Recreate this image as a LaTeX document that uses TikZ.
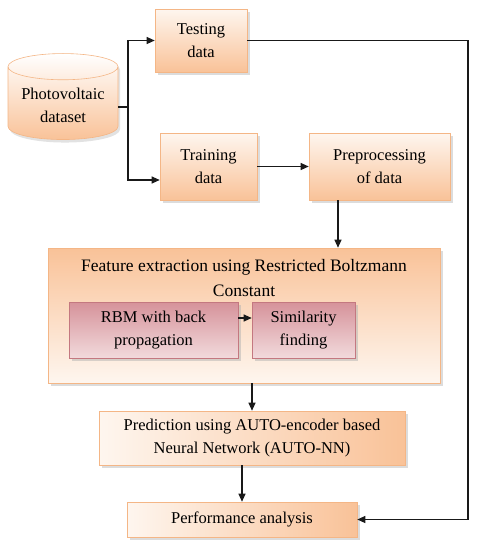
\documentclass[tikz,border=0pt]{standalone}
\usepackage{fontspec}
\setmainfont{Liberation Serif}
\usepackage{tikz}
\usetikzlibrary{arrows.meta, positioning, shapes.geometric, shadows}

\definecolor{peachlight}{RGB}{254,246,239}
\definecolor{peach}{RGB}{249,194,152}
\definecolor{peachline}{RGB}{244,182,134}
\definecolor{roselight}{RGB}{242,218,220}
\definecolor{rose}{RGB}{214,146,154}
\definecolor{roseline}{RGB}{196,120,128}

\begin{document}
\begin{tikzpicture}[
    x=1pt, y=-1pt,
    every node/.style={align=center, inner sep=2pt, font=\fontsize{16.5}{23}\selectfont},
    box/.style={rectangle, draw=peachline, line width=0.6pt, top color=peachlight, bottom color=peach,
        drop shadow={shadow xshift=3pt, shadow yshift=-3pt, fill=gray!55}},
    bigbox/.style={box, top color=peach, bottom color=peachlight},
    sidebox/.style={box, left color=peachlight, right color=peach},
    innerbox/.style={rectangle, draw=roseline, line width=0.6pt, top color=rose, bottom color=roselight,
        drop shadow={shadow xshift=3pt, shadow yshift=-3pt, fill=gray!60}},
    store/.style={cylinder, shape border rotate=90, aspect=0.3, draw=peachline, line width=0.6pt,
        top color=white, bottom color=peach,
        drop shadow={shadow xshift=2pt, shadow yshift=-3pt, fill=gray!45}},
    edge/.style={-{Triangle[length=8pt, width=7pt]}, line width=1.1pt, color=black!90}
]
\useasboundingbox (0,0) rectangle (479,550);

% Nodes
\node[store, minimum width=110pt, minimum height=86pt] (data) at (63,105) {Photovoltaic\\dataset};
\node[box, minimum width=92pt, minimum height=63pt] (testing) at (201,40.5) {Testing\\data};
\node[box, minimum width=97pt, minimum height=67pt] (training) at (208.5,166.5) {Training\\data};
\node[box, minimum width=141pt, minimum height=67pt] (preproc) at (379.5,166.5) {Preprocessing\\of data};

\node[bigbox, minimum width=392pt, minimum height=135pt] (feat) at (244,315.5) {};
\node[font=\fontsize{17.5}{25}\selectfont] (feattitle) at (244,278.5) {Feature extraction using Restricted Boltzmann\\Constant};
\node[innerbox, minimum width=169pt, minimum height=56pt] (rbm) at (153.5,330) {RBM with back\\propagation};
\node[innerbox, minimum width=103pt, minimum height=56pt] (sim) at (303.5,330) {Similarity\\finding};

\node[sidebox, minimum width=306pt, minimum height=54pt] (pred) at (252,438) {Prediction using AUTO-encoder based\\Neural Network (AUTO-NN)};
\node[sidebox, minimum width=230pt, minimum height=35pt] (perf) at (242,519.5) {Performance analysis};

\coordinate (split) at (128,107);
\coordinate (turn) at (468,519.5);

% Arrows
\draw[line width=1.1pt, color=black!90] (data.east |- split) -- (split);
\draw[edge] (split) |- (testing.west);
\draw[edge] (split) |- ([yshift=-13.5pt]training.west);
\draw[edge] (training) -- (preproc);
\draw[edge] ([xshift=-41.5pt]preproc.south) -- ([xshift=-41.5pt]preproc.south |- feat.north);
\draw[edge] ([yshift=12pt]rbm.east) -- ([yshift=12pt]sim.west);
\draw[edge] (pred.north |- feat.south) -- (pred.north);
\draw[edge] (perf.north |- pred.south) -- (perf.north);
\draw[edge] (testing.east) -| (turn) -- (perf.east);

\end{tikzpicture}
\end{document}
